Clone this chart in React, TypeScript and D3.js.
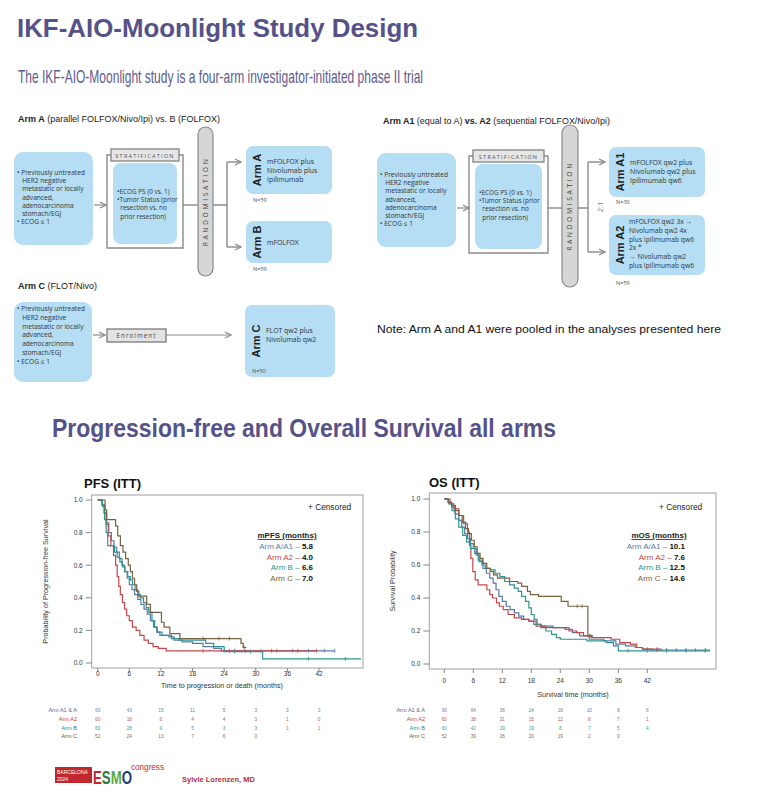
import React from 'react';
import * as d3 from 'd3';

type Pt = [number, number];

// ---------- DATA ----------
const armNames = ['Arm A/A1', 'Arm A2', 'Arm B', 'Arm C'];
const armColors = ['#5a7aa8', '#c4484a', '#2c9592', '#7a6040'];
const riskLabels = ['Arm A1 & A', 'Arm A2', 'Arm B', 'Arm C'];
const riskColors = ['#55689a', '#b24640', '#2a8a8a', '#6a5438'];

const pfsMedians = ['5.8', '4.0', '6.6', '7.0'];
const osMedians = ['10.1', '7.6', '12.5', '14.6'];

const xTicks = [0, 6, 12, 18, 24, 30, 36, 42];
const yTicks = [0, 0.2, 0.4, 0.6, 0.8, 1.0];

const pfsArmA1A: Pt[] = [[0,1],[0.9,0.97],[1.3,0.92],[1.7,0.86],[2.1,0.8],[2.6,0.75],[3.1,0.71],[3.6,0.68],[4.1,0.64],[4.6,0.6],[5.1,0.56],[5.6,0.52],[6.0,0.48],[6.5,0.45],[7.0,0.42],[7.6,0.39],[8.2,0.36],[8.8,0.33],[9.4,0.3],[10.0,0.26],[10.6,0.22],[11.2,0.19],[12.2,0.17],[13.5,0.16],[14.5,0.14],[16,0.13],[18,0.12],[20,0.1],[22,0.09],[23.5,0.075]];
const pfsArmA2: Pt[] = [[0,1],[0.8,0.97],[1.2,0.92],[1.6,0.85],[2.0,0.78],[2.5,0.72],[3.0,0.66],[3.4,0.6],[3.7,0.53],[4.0,0.47],[4.3,0.42],[4.7,0.37],[5.1,0.33],[5.5,0.29],[6.0,0.26],[6.6,0.22],[7.3,0.2],[8.0,0.17],[8.8,0.14],[9.6,0.12],[10.5,0.1],[11.5,0.09],[13,0.075]];
const pfsArmB: Pt[] = [[0,1],[0.9,0.96],[1.3,0.88],[1.6,0.8],[1.9,0.72],[3.2,0.68],[3.7,0.65],[4.2,0.62],[4.7,0.59],[5.2,0.56],[5.7,0.53],[6.2,0.51],[6.6,0.48],[7.1,0.45],[7.6,0.42],[8.1,0.4],[8.7,0.37],[9.2,0.34],[9.7,0.31],[10.3,0.26],[10.8,0.22],[11.3,0.19],[11.8,0.17],[14.0,0.15],[15.5,0.14],[20.5,0.12],[22,0.1],[24,0.07],[31.3,0.025]];
const pfsArmC: Pt[] = [[0,1],[1.4,0.94],[1.7,0.88],[3.4,0.84],[3.8,0.78],[4.3,0.72],[4.8,0.68],[5.3,0.64],[5.8,0.6],[6.2,0.56],[6.6,0.52],[7.0,0.48],[7.4,0.44],[7.8,0.41],[9.3,0.36],[10.0,0.31],[12.1,0.25],[12.6,0.22],[13.7,0.18],[15.6,0.15],[27.2,0.12],[27.6,0.095]];
const pfsEnds = [45, 41.5, 50, 28.2];
const pfsCensA1A = [25, 28, 31, 34, 37, 40, 43, 45];
const pfsCensA2 = [20, 26, 33, 38, 41.5];
const pfsCensB = [26, 29, 40, 47];
const pfsCensC = [20, 23, 25, 27.8];

const osArmA1A: Pt[] = [[0,1],[0.8,0.98],[1.5,0.95],[2.2,0.91],[3,0.87],[3.6,0.83],[4.2,0.79],[4.8,0.76],[5.4,0.73],[6,0.7],[6.6,0.66],[7.2,0.62],[8,0.58],[8.7,0.55],[9.4,0.52],[10.1,0.49],[10.7,0.45],[11.3,0.41],[12,0.38],[12.8,0.35],[13.6,0.33],[14.5,0.31],[15.4,0.29],[16.4,0.27],[17.5,0.26],[18.5,0.24],[20,0.23],[22.5,0.22],[25,0.21],[26.5,0.19],[28,0.17],[30,0.15],[33,0.14],[35.5,0.12],[37.5,0.11],[39.5,0.1],[41,0.09],[43,0.085]];
const osArmA2: Pt[] = [[0,1],[1.2,0.97],[2,0.94],[3,0.9],[4,0.85],[4.8,0.8],[5.2,0.72],[5.5,0.64],[5.9,0.56],[6.4,0.51],[7,0.48],[8.8,0.45],[9.4,0.42],[10,0.4],[10.8,0.37],[11.4,0.35],[12.2,0.33],[13.2,0.3],[14.5,0.28],[16,0.27],[17.5,0.26],[19,0.23],[21,0.22],[25.8,0.2],[27.4,0.19],[28.8,0.17],[30.5,0.16],[34.5,0.15],[36.3,0.13],[38.5,0.12],[39.8,0.1],[41,0.09]];
const osArmB: Pt[] = [[0,1],[0.9,0.97],[1.6,0.93],[2.3,0.88],[3,0.83],[3.8,0.78],[4.6,0.74],[5.4,0.7],[6.3,0.67],[7,0.63],[7.8,0.6],[8.5,0.58],[9.5,0.57],[10.5,0.55],[11.5,0.53],[12.5,0.5],[13.5,0.48],[14.5,0.46],[15.3,0.44],[16,0.41],[16.8,0.38],[17.5,0.34],[18,0.3],[18.6,0.27],[19.2,0.24],[20,0.22],[21,0.2],[22.2,0.18],[23.2,0.16],[24,0.15],[29.5,0.14],[33.5,0.13],[35,0.11],[36,0.08]];
const osArmC: Pt[] = [[0,1],[0.8,0.98],[1.5,0.96],[2.3,0.93],[3,0.9],[3.7,0.86],[4.4,0.82],[5,0.79],[5.6,0.75],[6.2,0.71],[6.8,0.67],[7.4,0.64],[8,0.61],[8.8,0.58],[9.5,0.56],[10.2,0.54],[11,0.52],[13.5,0.5],[15.2,0.49],[16,0.47],[17.2,0.44],[17.8,0.42],[19.5,0.41],[22.8,0.41],[24.2,0.38],[25.6,0.35],[29.7,0.17]];
const osEnds = [55, 45, 55, 30.8];
const osCensA1A = [44, 46, 48, 50, 52, 54];
const osCensA2 = [20, 30, 42, 44];
const osCensB = [38, 42, 46, 50, 54];
const osCensC = [27.5, 28.5, 30.2];

const pfsRiskA1A = ['90', '43', '15', '11', '5', '3', '3', '3'];
const pfsRiskA2 = ['60', '18', '6', '4', '4', '3', '1', '0'];
const pfsRiskB = ['60', '28', '9', '5', '3', '3', '1', '1'];
const pfsRiskC = ['52', '24', '13', '7', '6', '0'];
const osRiskA1A = ['90', '64', '36', '24', '18', '10', '8', '6'];
const osRiskA2 = ['60', '38', '21', '15', '12', '8', '7', '1'];
const osRiskB = ['60', '42', '29', '19', '8', '7', '5', '4'];
const osRiskC = ['52', '39', '26', '20', '19', '2', '0'];

const inclusionLines = ['• Previously untreated', '   HER2 negative', '   metastatic or locally', '   advanced,', '   adenocarcinoma', '   stomach/EGJ', '• ECOG ≤ 1'];
const stratLines = ['•ECOG PS (0 vs. 1)', '•Tumor Status (prior', '  resection vs. no', '  prior resection)'];

// ---------- STYLE ----------
const TITLE = '#55528a';
const BOX = '#b5def5';
const GRAY = '#8a8a8a';
const FONT = '"Liberation Sans", Arial, sans-serif';
const SMALL = '"Open Sans", "Liberation Sans", sans-serif';

function stepAt(pts: Pt[], t: number) {
  let s = 1;
  for (const p of pts) if (p[0] <= t) s = p[1];
  return s;
}

interface KMProps {
  frame: [number, number, number, number];
  xr: [number, number];
  yr: [number, number];
  arms: Pt[][];
  ends: number[];
  cens: number[][];
  title: string;
  titlePos: [number, number];
  ylab: string;
  ylabX: number;
  xlab: string;
  xlabX: number;
  xlabY: number;
  tickY: number;
  legendTitle: string;
  medians: string[];
  legendX: number;
  censX: number;
  risks: string[][];
  riskLabelX: number;
}

function KM(p: KMProps) {
  const [fx0, fy0, fx1, fy1] = p.frame;
  const x = d3.scaleLinear().domain([0, 42]).range(p.xr);
  const y = d3.scaleLinear().domain([0, 1]).range(p.yr);
  const line = d3.line<Pt>().x(d => x(d[0])).y(d => y(d[1])).curve(d3.curveStepAfter);
  const riskY = [712, 721, 729.5, 738];
  return (
    <g fontFamily={FONT}>
      <text x={p.titlePos[0]} y={p.titlePos[1]} fontSize={13} fontWeight="bold" fill="#111">{p.title}</text>
      <rect x={fx0} y={fy0} width={fx1 - fx0} height={fy1 - fy0} fill="#fff" stroke="#a0a0a0" strokeWidth={1} />
      {yTicks.map(t => (
        <g key={'y' + t}>
          <line x1={fx0 - 6} x2={fx0} y1={y(t)} y2={y(t)} stroke="#888" />
          <text x={fx0 - 9} y={y(t) + 2.3} fontSize={6.5} textAnchor="end" fill="#333">{t.toFixed(1)}</text>
        </g>
      ))}
      {xTicks.map(t => (
        <g key={'x' + t}>
          <line x1={x(t)} x2={x(t)} y1={fy1} y2={fy1 + 4} stroke="#888" />
          <text x={x(t)} y={p.tickY} fontSize={6.5} textAnchor="middle" fill="#333">{t}</text>
        </g>
      ))}
      <text transform={`translate(${p.ylabX},${(fy0 + fy1) / 2}) rotate(-90)`} fontSize={7.2} textAnchor="middle" fill="#333">{p.ylab}</text>
      <text x={p.xlabX} y={p.xlabY} fontSize={7.2} textAnchor="middle" fill="#333">{p.xlab}</text>
      {p.arms.map((pts, i) => {
        const full: Pt[] = [...pts, [p.ends[i], pts[pts.length - 1][1]]];
        return <path key={'c' + i} d={line(full) || ''} fill="none" stroke={armColors[i]} strokeWidth={1.2} />;
      })}
      {p.cens.map((cs, i) => cs.map((c, j) => {
        const s = stepAt(p.arms[i], c);
        return <line key={'k' + i + '-' + j} x1={x(c)} x2={x(c)} y1={y(s) - 2} y2={y(s) + 2} stroke={armColors[i]} strokeWidth={0.8} />;
      }))}
      <text x={p.censX} y={510} fontSize={8.3} fill="#222">+ Censored</text>
      <text x={p.legendX - 26} y={538} fontSize={8} fontWeight="bold" textAnchor="middle" fill="#222" textDecoration="underline">{p.legendTitle}</text>
      {armNames.map((n, i) => (
        <text key={'l' + i} x={p.legendX} y={549 + i * 10.7} fontSize={8} textAnchor="end">
          <tspan fill={armColors[i]}>{n} – </tspan>
          <tspan fill="#111" fontWeight="bold">{p.medians[i]}</tspan>
        </text>
      ))}
      {p.risks.map((row, i) => (
        <g key={'r' + i}>
          <text x={p.riskLabelX} y={riskY[i]} fontSize={5.6} textAnchor="end" fill={riskColors[i]}>{riskLabels[i]}</text>
          {row.map((v, j) => (
            <text key={j} x={x(xTicks[j])} y={riskY[i]} fontSize={4.8} textAnchor="middle" fill={riskColors[i]} opacity={0.85}>{v}</text>
          ))}
        </g>
      ))}
    </g>
  );
}

function Lines({ x, y, lines, dy, size }: { x: number; y: number; lines: string[]; dy: number; size: number }) {
  return (
    <text fontFamily={SMALL} fontSize={size} fill="#333">
      {lines.map((l, i) => (
        <tspan key={i} x={x} y={y + i * dy} style={{ whiteSpace: 'pre' }}>{l}</tspan>
      ))}
    </text>
  );
}

function ArmBox({ x, y, w, h, label, lines, n, nY, textY }: { x: number; y: number; w: number; h: number; label: string; lines: string[]; n: string; nY: number; textY: number }) {
  return (
    <g>
      <rect x={x} y={y} width={w} height={h} rx={7} fill={BOX} />
      <text transform={`translate(${x + 14.5},${y + h / 2}) rotate(-90)`} fontFamily={FONT} fontSize={11} fontWeight="bold" textAnchor="middle" fill="#222">{label}</text>
      <Lines x={x + 21} y={textY} lines={lines} dy={9} size={6.9} />
      <text x={x + 7} y={nY} fontFamily={SMALL} fontSize={5.6} fill="#555">{n}</text>
    </g>
  );
}

function Strat({ x, y, w, h }: { x: number; y: number; w: number; h: number }) {
  return (
    <g>
      <path d={`M${x + 4},${y + 6} H${x} V${y + h} H${x + w} V${y + 6} H${x + w - 4}`} fill="none" stroke={GRAY} strokeWidth={1.4} />
      <rect x={x + 4} y={y} width={w - 8} height={12} fill="#e6e6e6" stroke={GRAY} strokeWidth={1.4} />
      <text x={x + w / 2} y={y + 8.5} fontFamily={SMALL} fontSize={5.6} textAnchor="middle" fill="#555" letterSpacing={1.2}>STRATIFICATION</text>
      <rect x={x + 6} y={y + 14} width={w - 12} height={h - 18} rx={8} fill={BOX} />
      <Lines x={x + 10} y={y + 45} lines={stratLines} dy={8.2} size={6.4} />
    </g>
  );
}

function Pill({ x, y, w, h }: { x: number; y: number; w: number; h: number }) {
  return (
    <g>
      <rect x={x} y={y} width={w} height={h} rx={w / 2} fill="#d6d6d6" stroke={GRAY} strokeWidth={1.2} />
      <text transform={`translate(${x + w / 2 + 2.3},${y + h / 2}) rotate(-90)`} fontFamily={SMALL} fontSize={6.8} textAnchor="middle" fill="#444" letterSpacing={2.6}>RANDOMISATION</text>
    </g>
  );
}

export default function App() {
  const arrowId = 'arr';
  return (
    <svg width={766} height={800} style={{ position: 'absolute', left: 0, top: 0, background: '#fff' }}>
      <defs>
        <marker id={arrowId} viewBox="0 0 8 8" refX={7} refY={4} markerWidth={8} markerHeight={8} orient="auto" markerUnits="userSpaceOnUse">
          <path d="M1,1 L7,4 L1,7" fill="none" stroke={GRAY} strokeWidth={1.3} />
        </marker>
      </defs>
      <rect x={0} y={0} width={766} height={800} fill="#fff" />

      {/* Titles */}
      <text x={17} y={37} fontFamily={FONT} fontSize={26} fontWeight="bold" fill={TITLE} textLength={401} lengthAdjust="spacingAndGlyphs">IKF-AIO-Moonlight Study Design</text>
      <text x={18} y={83} fontFamily={FONT} fontSize={18.5} fill="#5d5b8e" textLength={405} lengthAdjust="spacingAndGlyphs">The IKF-AIO-Moonlight study is a four-arm investigator-initiated phase II trial</text>

      {/* Left diagram: Arm A vs B */}
      <text x={18} y={122} fontFamily={FONT} fontSize={9} fill="#222" textLength={202} lengthAdjust="spacingAndGlyphs">
        <tspan fontWeight="bold">Arm A</tspan><tspan> (parallel FOLFOX/Nivo/Ipi) vs. B (FOLFOX)</tspan>
      </text>
      <rect x={14} y={152} width={79} height={93} rx={9} fill={BOX} />
      <Lines x={17} y={175} lines={inclusionLines} dy={8.2} size={6.6} />
      <line x1={94} y1={205} x2={106} y2={205} stroke={GRAY} strokeWidth={1.2} markerEnd={`url(#${arrowId})`} />
      <Strat x={107} y={149} w={76} h={99} />
      <line x1={183} y1={205} x2={198} y2={205} stroke={GRAY} strokeWidth={1.4} />
      <Pill x={198} y={127} w={15} h={149} />
      <path d="M213,205 H227 M227,162 V247" fill="none" stroke={GRAY} strokeWidth={1.4} />
      <line x1={227} y1={162} x2={241} y2={162} stroke={GRAY} strokeWidth={1.4} markerEnd={`url(#${arrowId})`} />
      <line x1={227} y1={247} x2={241} y2={247} stroke={GRAY} strokeWidth={1.4} markerEnd={`url(#${arrowId})`} />
      <ArmBox x={246} y={146} w={86} h={48} label="Arm A" lines={['mFOLFOX plus', 'Nivolumab plus', 'Ipilimumab']} textY={164} n="N=59" nY={202} />
      <ArmBox x={246} y={221} w={86} h={42} label="Arm B" lines={['mFOLFOX']} textY={245} n="N=59" nY={271} />

      {/* Right diagram: Arm A1 vs A2 */}
      <text x={383} y={124} fontFamily={FONT} fontSize={9} fill="#222" textLength={227} lengthAdjust="spacingAndGlyphs">
        <tspan fontWeight="bold">Arm A1</tspan><tspan> (equal to A) </tspan><tspan fontWeight="bold">vs. A2</tspan><tspan> (sequential FOLFOX/Nivo/Ipi)</tspan>
      </text>
      <rect x={377} y={153} width={79} height={94} rx={9} fill={BOX} />
      <Lines x={380} y={177} lines={inclusionLines} dy={8.2} size={6.6} />
      <line x1={457} y1={208} x2={469} y2={208} stroke={GRAY} strokeWidth={1.2} markerEnd={`url(#${arrowId})`} />
      <Strat x={469} y={150} w={79} h={103} />
      <line x1={548} y1={208} x2={562} y2={208} stroke={GRAY} strokeWidth={1.4} />
      <Pill x={562} y={125} w={16} h={162} />
      <path d="M578,208 H588 M588,162 V252" fill="none" stroke={GRAY} strokeWidth={1.4} />
      <line x1={588} y1={162} x2={605} y2={162} stroke={GRAY} strokeWidth={1.4} markerEnd={`url(#${arrowId})`} />
      <line x1={588} y1={252} x2={605} y2={252} stroke={GRAY} strokeWidth={1.4} markerEnd={`url(#${arrowId})`} />
      <text transform="translate(603,207) rotate(-90)" fontFamily={SMALL} fontSize={7.5} textAnchor="middle" fill="#777">2:1</text>
      <ArmBox x={609} y={147} w={96} h={50} label="Arm A1" lines={['mFOLFOX qw2 plus', 'Nivolumab qw2 plus', 'Ipilimumab qw6']} textY={165} n="N=30" nY={204} />
      <g>
        <rect x={609} y={215} width={96} height={60} rx={7} fill={BOX} />
        <text transform="translate(623.5,245) rotate(-90)" fontFamily={FONT} fontSize={11} fontWeight="bold" textAnchor="middle" fill="#222">Arm A2</text>
        <Lines x={629} y={224} lines={['mFOLFOX qw2 3x →', 'Nivolumab qw2 4x', 'plus Ipilimumab qw6', '2x *', '→ Nivolumab qw2', 'plus Ipilimumab qw6']} dy={8.8} size={6.7} />
        <text x={616} y={285} fontFamily={SMALL} fontSize={5.6} fill="#555">N=59</text>
      </g>

      {/* Arm C */}
      <text x={18} y={289} fontFamily={FONT} fontSize={9} fill="#222" textLength={79} lengthAdjust="spacingAndGlyphs">
        <tspan fontWeight="bold">Arm C</tspan><tspan> (FLOT/Nivo)</tspan>
      </text>
      <rect x={14} y={302} width={78} height={80} rx={9} fill={BOX} />
      <Lines x={17} y={311} lines={inclusionLines} dy={8.8} size={6.6} />
      <line x1={93} y1={335} x2={105} y2={335} stroke={GRAY} strokeWidth={1.2} markerEnd={`url(#${arrowId})`} />
      <rect x={107} y={329} width={59} height={13} fill="#e3e3e3" stroke="#7a7a7a" strokeWidth={1.3} />
      <text x={136.5} y={338} fontFamily={SMALL} fontSize={6.3} textAnchor="middle" fill="#444" letterSpacing={1}>Enrolment</text>
      <line x1={166} y1={335} x2={231} y2={335} stroke={GRAY} strokeWidth={1.2} markerEnd={`url(#${arrowId})`} />
      <ArmBox x={245} y={305} w={90} h={72} label="Arm C" lines={['FLOT qw2 plus', 'Nivolumab qw2']} textY={333} n="N=50" nY={373} />

      <text x={377} y={333} fontFamily={FONT} fontSize={11.5} fill="#111" textLength={344} lengthAdjust="spacingAndGlyphs">Note: Arm A and A1 were pooled in the analyses presented here</text>

      {/* Section title */}
      <text x={52} y={437} fontFamily={FONT} fontSize={25} fontWeight="bold" fill={TITLE} textLength={504} lengthAdjust="spacingAndGlyphs">Progression-free and Overall Survival all arms</text>

      <KM
        frame={[91.7, 495, 363, 668]}
        xr={[97.7, 319]}
        yr={[663, 500]}
        arms={[pfsArmA1A, pfsArmA2, pfsArmB, pfsArmC]}
        ends={pfsEnds}
        cens={[pfsCensA1A, pfsCensA2, pfsCensB, pfsCensC]}
        title="PFS (ITT)"
        titlePos={[84, 488]}
        ylab="Probability of Progression-free Survival"
        ylabX={48}
        xlab="Time to progression or death (months)"
        xlabX={222}
        xlabY={688}
        tickY={676}
        legendTitle="mPFS (months)"
        medians={pfsMedians}
        legendX={313}
        censX={308}
        risks={[pfsRiskA1A, pfsRiskA2, pfsRiskB, pfsRiskC]}
        riskLabelX={77}
      />
      <KM
        frame={[429.3, 493, 716, 669]}
        xr={[444.3, 647.3]}
        yr={[664, 499]}
        arms={[osArmA1A, osArmA2, osArmB, osArmC]}
        ends={osEnds}
        cens={[osCensA1A, osCensA2, osCensB, osCensC]}
        title="OS (ITT)"
        titlePos={[429, 487]}
        ylab="Survival Probability"
        ylabX={395}
        xlab="Survival time (months)"
        xlabX={573}
        xlabY={697}
        tickY={683}
        legendTitle="mOS (months)"
        medians={osMedians}
        legendX={685}
        censX={659}
        risks={[osRiskA1A, osRiskA2, osRiskB, osRiskC]}
        riskLabelX={425}
      />

      {/* Footer */}
      <rect x={55} y={767} width={37} height={16} fill="#c0282e" />
      <text x={57} y={774} fontFamily={FONT} fontSize={5} fill="#fff">BARCELONA</text>
      <text x={57} y={780.5} fontFamily={FONT} fontSize={5} fill="#fff">2024</text>
      <text transform="translate(93,783.5) scale(0.7,1)" fontFamily={FONT} fontSize={19} fontWeight="bold">
        <tspan fill="#c0282e">E</tspan><tspan fill="#2e7d3a">S</tspan><tspan fill="#5aab48">M</tspan><tspan fill="#1d3c70">O</tspan>
      </text>
      <text x={131} y={770} fontFamily={FONT} fontSize={9} fill="#c0282e" textLength={33} lengthAdjust="spacingAndGlyphs">congress</text>
      <text x={182} y={782} fontFamily={FONT} fontSize={7.5} fontWeight="bold" fill="#b0303e">Sylvie Lorenzen, MD</text>
    </svg>
  );
}
